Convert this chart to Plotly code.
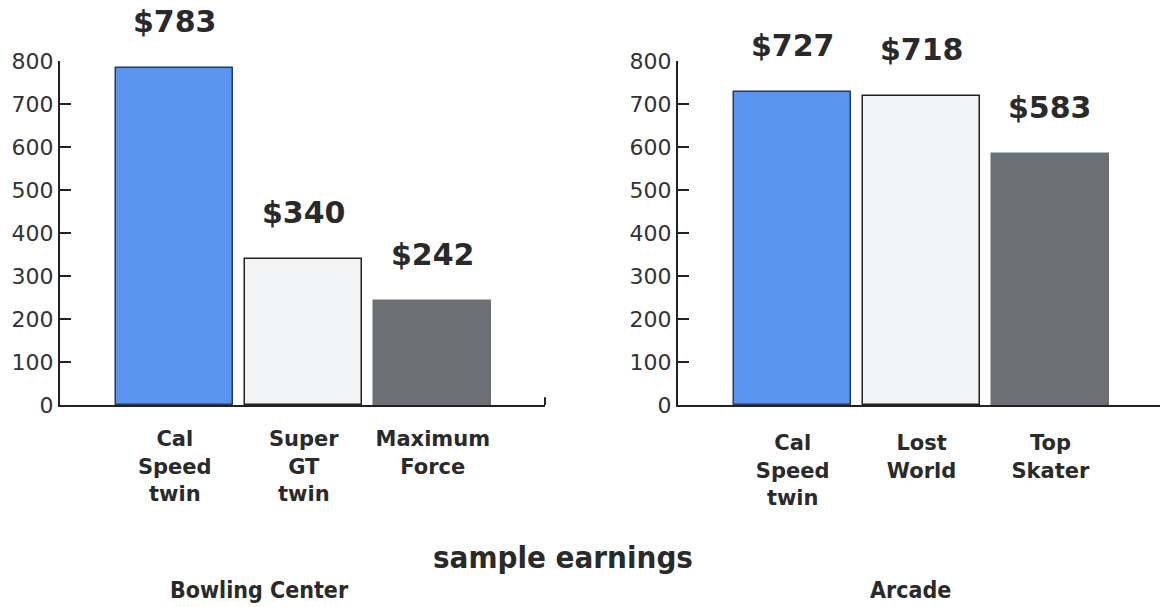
import plotly.graph_objects as go

# ---- data ----
bowling_games = ["Cal<br>Speed<br>twin", "Super<br>GT<br>twin", "Maximum<br>Force"]
bowling_values = [783, 340, 242]
arcade_games = ["Cal<br>Speed<br>twin", "Lost<br>World", "Top<br>Skater"]
arcade_values = [727, 718, 583]
y_ticks = [0, 100, 200, 300, 400, 500, 600, 700, 800]
chart_title = "sample earnings"
panel_titles = ["Bowling Center", "Arcade"]

# ---- style ----
bar_colors = ["#5A95EF", "#F1F3F4", "#6C6F74"]
bar_lines = ["#2a3a55", "#222222", "#6C6F74"]
ink = "#2a2a2a"
narrow = "DejaVu Sans Condensed, Liberation Sans Narrow, Liberation Sans, Arial, sans-serif"

W, H = 1163, 607
TOP, BOTTOM = 61, 405          # pixel rows of 800 and 0
PH = BOTTOM - TOP

def px(x):
    return x / W

def py(y):
    return (BOTTOM - y) / PH

fig = go.Figure()

def add_panel(values, xa, ya):
    idx = list(range(len(values)))
    fig.add_trace(go.Bar(
        x=idx, y=values, width=0.905,
        marker=dict(color=bar_colors, line=dict(color=bar_lines, width=1.5)),
        xaxis=xa, yaxis=ya, showlegend=False, hoverinfo="skip",
    ))
    for i, v in zip(idx, values):
        fig.add_annotation(
            x=i, y=v, xref=xa, yref=ya, text=f"<b>${v}</b>", showarrow=False,
            yanchor="bottom", yshift=27,
            font=dict(family="DejaVu Sans", size=30, color=ink),
        )

add_panel(bowling_values, "x", "y")
add_panel(arcade_values, "x2", "y2")

common_y = dict(
    range=[0, 800], tickvals=y_ticks, showgrid=False, zeroline=False,
    showline=True, linecolor="#222", linewidth=2,
    ticks="inside", ticklen=11, tickwidth=2, tickcolor="#222",
    tickfont=dict(family="DejaVu Sans", size=22, color="#333"),
)
common_x = dict(
    showgrid=False, zeroline=False, showline=True, linecolor="#222", linewidth=2,
    ticks="", tickvals=[0, 1, 2],
    tickfont=dict(family="DejaVu Sans", size=21, color=ink),
)

fig.update_layout(
    width=W, height=H,
    margin=dict(l=0, r=0, t=TOP, b=H - BOTTOM),
    paper_bgcolor="white", plot_bgcolor="white",
    bargap=0,
    xaxis=dict(domain=[px(60), px(545)], range=[-0.89, 2.87],
               ticktext=[f"<b>{c}</b>" for c in bowling_games],
               ticklabelstandoff=14, anchor="y", **common_x),
    yaxis=dict(domain=[0, 1], anchor="x", **common_y),
    xaxis2=dict(domain=[px(678), px(1160)], range=[-0.89, 2.85],
                ticktext=[f"<b>{c}</b>" for c in arcade_games],
                ticklabelstandoff=18, anchor="y2", **common_x),
    yaxis2=dict(domain=[0, 1], anchor="x2", **common_y),
)

# small end tick on the left panel's baseline
fig.add_shape(type="line", xref="x domain", yref="y", x0=1, x1=1, y0=0, y1=18,
              line=dict(color="#222", width=2))

fig.add_annotation(x=px(563), y=py(557), xref="paper", yref="paper",
                   xanchor="center", yanchor="middle",
                   text=f"<b>{chart_title}</b>", showarrow=False,
                   font=dict(family=narrow, size=31, color=ink))
fig.add_annotation(x=px(259), y=py(590), xref="paper", yref="paper",
                   xanchor="center", yanchor="middle",
                   text=f"<b>{panel_titles[0]}</b>", showarrow=False,
                   font=dict(family=narrow, size=23, color=ink))
fig.add_annotation(x=px(910), y=py(590), xref="paper", yref="paper",
                   xanchor="center", yanchor="middle",
                   text=f"<b>{panel_titles[1]}</b>", showarrow=False,
                   font=dict(family=narrow, size=23, color=ink))

fig.write_html("out.html", config={"displayModeBar": False},
               post_script="document.body.style.margin='0';")
